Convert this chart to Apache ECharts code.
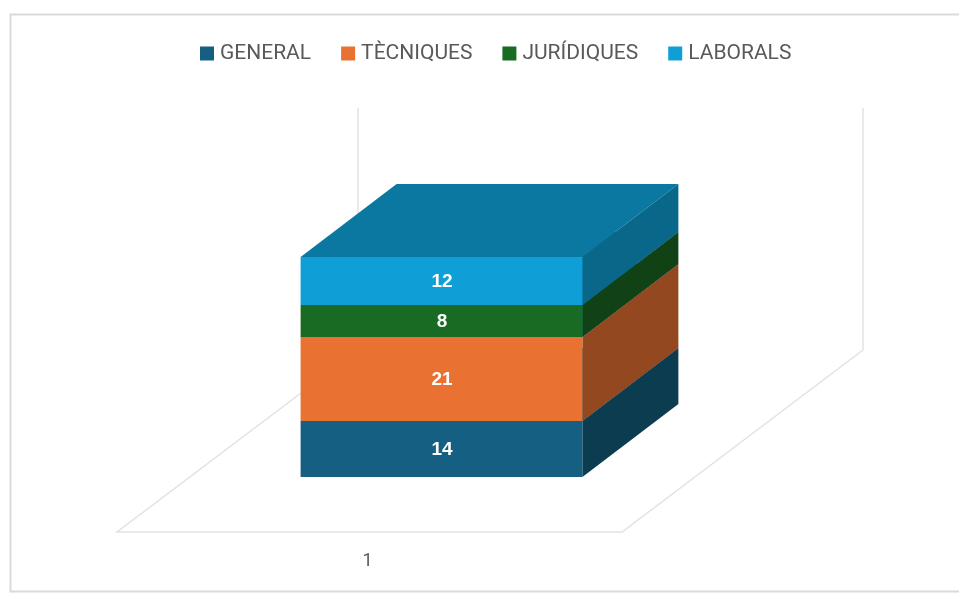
<!DOCTYPE html>
<html>
<head>
<meta charset="utf-8">
<title>Chart</title>
<script src="https://cdn.jsdelivr.net/npm/echarts@6/dist/echarts.min.js"></script>
<style>
  html, body { margin: 0; padding: 0; background: #fff; }
  #chart { width: 959px; height: 597px; }
</style>
</head>
<body>
<div id="chart"></div>
<script>
const categories = ['1'];
const seriesNames = ['GENERAL', 'TÈCNIQUES', 'JURÍDIQUES', 'LABORALS'];
const generalValues = [14];
const tecniquesValues = [21];
const juridiquesValues = [8];
const laboralsValues = [12];
const seriesValues = [generalValues, tecniquesValues, juridiquesValues, laboralsValues];

const frontColors = ['#156082', '#E97132', '#196B24', '#0F9ED5'];
const sideColors = ['#0C3C50', '#934820', '#114216', '#096789'];
const topColor = '#0B78A2';
const wallColor = '#E2E2E2';

// oblique projection, in pixels
const floorDepth = [241, -182];
const boxShift = [72, -55];
const boxDepth = [96, -73];
const boxWidthRatio = 0.558;

function renderFloor(params, api) {
	const frontLeft = api.coord([0, 0]);
	const band = api.size([1, 0])[0];
	const x0 = frontLeft[0] - band / 2;
	const y0 = frontLeft[1];
	const x1 = x0 + band;
	const backY = y0 + floorDepth[1];
	const top = api.coord([0, 106])[1];
	const style = { fill: 'none', stroke: wallColor, lineWidth: 1.5 };
	return {
		type: 'group',
		children: [
			{
				type: 'polyline',
				shape: {
					points: [
						[x0 + floorDepth[0], top],
						[x0 + floorDepth[0], backY],
						[x0, y0],
						[x1, y0],
						[x1 + floorDepth[0], backY],
						[x1 + floorDepth[0], top]
					]
				},
				style
			}
		]
	};
}

function boxRenderer(seriesIndex) {
	return function (params, api) {
		const base = seriesValues.slice(0, seriesIndex).reduce((sum, s) => sum + s[params.dataIndex], 0);
		const value = api.value(1);
		const bottom = api.coord([api.value(0), base]);
		const top = api.coord([api.value(0), base + value]);
		const half = api.size([1, 0])[0] * boxWidthRatio / 2;
		const l = bottom[0] + boxShift[0] - half;
		const r = bottom[0] + boxShift[0] + half;
		const yb = bottom[1] + boxShift[1];
		const yt = top[1] + boxShift[1];
		const dx = boxDepth[0];
		const dy = boxDepth[1];
		return {
			type: 'group',
			children: [
				{
					type: 'polygon',
					shape: { points: [[l, yt], [r, yt], [r + dx, yt + dy], [l + dx, yt + dy]] },
					style: { fill: topColor }
				},
				{
					type: 'polygon',
					shape: { points: [[r, yb], [r + dx, yb + dy], [r + dx, yt + dy], [r, yt]] },
					style: { fill: sideColors[seriesIndex] }
				},
				{
					type: 'rect',
					shape: { x: l, y: yt, width: r - l, height: yb - yt },
					style: { fill: frontColors[seriesIndex] }
				},
				{
					type: 'text',
					x: (l + r) / 2 + 0.5,
					y: (yt + yb) / 2 + 1,
					style: {
						text: String(value),
						fill: '#fff',
						font: 'bold 19px "Liberation Sans", Arial, sans-serif',
						align: 'center',
						verticalAlign: 'middle'
					}
				}
			]
		};
	};
}

const myChart = echarts.init(document.getElementById('chart'), null, { renderer: 'canvas', devicePixelRatio: 1 });

const option = {
	animation: false,
	backgroundColor: '#fff',
	graphic: [
		{
			type: 'rect',
			silent: true,
			z: -1,
			shape: { x: 10.5, y: 14.5, width: 960, height: 577 },
			style: { fill: '#fff', stroke: '#DADADA', lineWidth: 2 }
		}
	],
	legend: {
		data: seriesNames,
		top: 43,
		left: 200,
		padding: 0,
		icon: 'rect',
		itemWidth: 14,
		itemHeight: 14,
		itemGap: 30,
		textStyle: { color: '#595959', fontSize: 21, fontFamily: 'Roboto', padding: [0, 0, 0, 1] }
	},
	grid: { left: 117, width: 505, top: 108, height: 424 },
	xAxis: {
		type: 'category',
		data: categories,
		axisLine: { show: false },
		axisTick: { show: false },
		axisLabel: { color: '#595959', fontSize: 18, fontFamily: 'Roboto', margin: 20, padding: [0, 4, 0, 0] }
	},
	yAxis: {
		type: 'value',
		min: 0,
		max: 106,
		show: false
	},
	series: [
		{
			type: 'custom',
			name: 'floor',
			silent: true,
			clip: false,
			renderItem: renderFloor,
			data: categories.map((c, i) => [i, 0])
		}
	].concat(seriesNames.map((name, s) => ({
		type: 'custom',
		name,
		silent: true,
		clip: false,
		itemStyle: { color: frontColors[s] },
		renderItem: boxRenderer(s),
		encode: { x: 0, y: 1 },
		data: seriesValues[s].map((v, i) => [i, v])
	})))
};

myChart.setOption(option);
</script>
</body>
</html>
